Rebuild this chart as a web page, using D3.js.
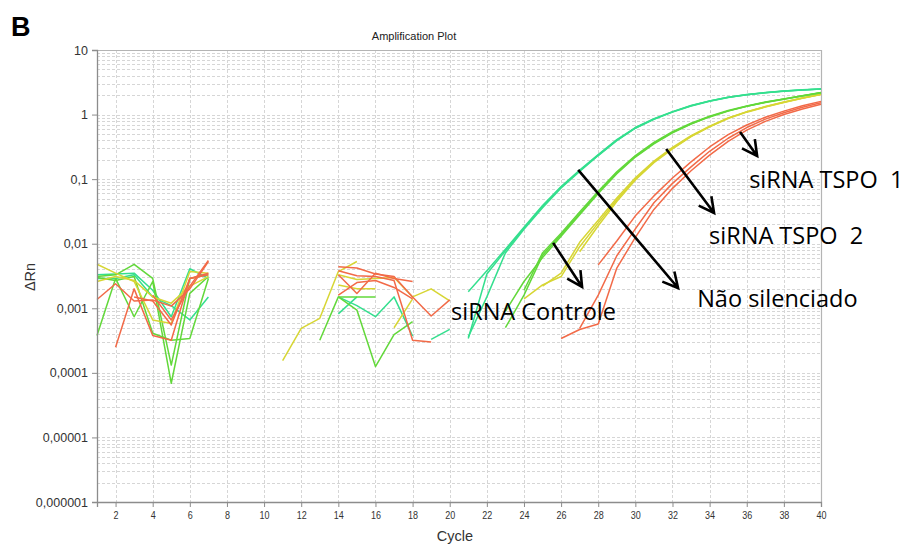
<!DOCTYPE html>
<html>
<head>
<meta charset="utf-8">
<script src="https://cdn.jsdelivr.net/npm/d3@7"></script>
<style>
  html, body { margin: 0; padding: 0; background: #fff; }
  svg { display: block; }
</style>
</head>
<body>
<svg id="chart" width="904" height="547"></svg>
<script>
// ---- qPCR amplification traces (ΔRn per cycle) ----
// Each trace: first cycle + consecutive ΔRn values.
const naoSilenciado1 = { from: 21, values: [0.00034, 0.0034, 0.0078, 0.0174, 0.0375, 0.075, 0.135, 0.235, 0.40, 0.62, 0.85, 1.10, 1.37, 1.62, 1.85, 2.03, 2.18, 2.31, 2.41, 2.49] };
const naoSilenciado2 = { from: 21, values: [0.0018, 0.0038, 0.0082, 0.018, 0.039, 0.077, 0.138, 0.24, 0.41, 0.63, 0.86, 1.11, 1.38, 1.63, 1.86, 2.04, 2.19, 2.32, 2.42, 2.50] };
const naoSilenciado3 = { from: 21, values: [0.00036, 0.0015, 0.0072, 0.0168, 0.036, 0.073, 0.132, 0.232, 0.395, 0.615, 0.845, 1.09, 1.36, 1.61, 1.84, 2.02, 2.17, 2.30, 2.40, 2.48] };

const controle1 = { from: 23, values: [0.0005, 0.0016, 0.0066, 0.0138, 0.029, 0.062, 0.125, 0.225, 0.36, 0.53, 0.72, 0.93, 1.14, 1.35, 1.55, 1.74, 1.95, 2.18] };
const controle2 = { from: 24, values: [0.0019, 0.0072, 0.0145, 0.031, 0.065, 0.13, 0.232, 0.37, 0.545, 0.735, 0.945, 1.155, 1.36, 1.56, 1.75, 1.96, 2.19] };
const controle3 = { from: 23, values: [0.0009, 0.0026, 0.0061, 0.013, 0.028, 0.06, 0.121, 0.22, 0.352, 0.52, 0.71, 0.92, 1.13, 1.34, 1.54, 1.73, 1.94, 2.17] };

const tspo2a = { from: 24, values: [0.0014, 0.0023, 0.0031, 0.009, 0.021, 0.048, 0.10, 0.185, 0.30, 0.46, 0.65, 0.88, 1.10, 1.32, 1.55, 1.80, 2.06] };
const tspo2b = { from: 25, values: [0.0022, 0.0035, 0.0105, 0.023, 0.051, 0.105, 0.19, 0.31, 0.47, 0.66, 0.89, 1.11, 1.33, 1.56, 1.81, 2.07] };
const tspo2c = { from: 27, values: [0.0075, 0.019, 0.045, 0.097, 0.18, 0.295, 0.455, 0.645, 0.87, 1.09, 1.31, 1.54, 1.79, 2.05] };

const tspo1a = { from: 26, values: [0.00034, 0.00047, 0.00057, 0.0042, 0.0125, 0.034, 0.072, 0.135, 0.235, 0.385, 0.575, 0.785, 1.00, 1.22, 1.45] };
const tspo1b = { from: 27, values: [0.00049, 0.0016, 0.0065, 0.017, 0.043, 0.086, 0.155, 0.27, 0.43, 0.63, 0.85, 1.07, 1.30, 1.52] };
const tspo1c = { from: 28, values: [0.0047, 0.011, 0.027, 0.055, 0.104, 0.185, 0.315, 0.49, 0.69, 0.91, 1.13, 1.37, 1.60] };

// Baseline noise, cycles 1-7
const baseYellowA = { from: 1, values: [0.0048, 0.0035, 0.0026, 0.00066, 0.00058, 0.0037, 0.0035] };
const baseYellowB = { from: 1, values: [0.0026, 0.0031, 0.0027, 0.0015, 0.0012, 0.0022, 0.0031] };
const baseTealA   = { from: 1, values: [0.0033, 0.0034, 0.0035, 0.0019, 0.00074, 0.0041, 0.0029] };
const baseTealB   = { from: 1, values: [0.0029, 0.0029, 0.0033, 0.0015, 0.0011, 0.00066, 0.0015] };
const baseGreenA  = { from: 1, values: [0.00038, 0.0029, 0.00074, 0.0026, 0.000069, 0.0017, 0.0031] };
const baseGreenB  = { from: 1, values: [0.0031, 0.0033, 0.0048, 0.0029, 0.000132, 0.0029, 0.0033] };
const baseGreenC  = { from: 1, values: [0.0030, 0.0027, 0.0031, 0.00041, 0.00032, 0.00034, 0.0029] };
const baseRedA    = { from: 1, values: [0.00137, 0.0024, 0.0013, 0.00134, 0.00108, 0.0020, 0.0053] };
const baseRedB    = { from: 2, values: [0.00025, 0.0020, 0.00038, 0.00032, 0.0029, 0.0035] };
const baseRedC    = { from: 3, values: [0.0015, 0.0013, 0.00055, 0.0029, 0.0033] };
const baseRedD    = { from: 4, values: [0.0016, 0.00066, 0.0022, 0.0055] };

// Baseline noise, cycles 11-20
const midYellowA = { from: 11, values: [0.000155, 0.00049, 0.0007, 0.0037, 0.0053] };
const midYellowB = { from: 14, values: [0.0033, 0.0028, 0.0029, 0.0030, 0.0015, 0.0020, 0.0013] };
const midYellowC = { from: 14, values: [0.0023, 0.0020, 0.0020] };
const midYellowD = { from: 17, values: [0.0005, 0.0014] };
const midRedA    = { from: 14, values: [0.0044, 0.0042, 0.0034, 0.0031, 0.0015, 0.00076, 0.00135] };
const midRedB    = { from: 14, values: [0.0033, 0.0017, 0.0035, 0.0029, 0.0026] };
const midRedC    = { from: 14, values: [0.0016, 0.0025, 0.0027, 0.0021, 0.0014] };
const midRedD    = { from: 14, values: [0.0038, 0.0032, 0.0031, 0.0027, 0.00032, 0.0003] };
const midGreenA  = { from: 13, values: [0.00032, 0.0015, 0.00094, 0.000125, 0.00039, 0.00062] };
const midGreenB  = { from: 14, values: [0.0015, 0.0015, 0.0015] };
const midTealA   = { from: 14, values: [0.0015, 0.0011, 0.00074, 0.0015, 0.00037] };
const midTealB   = { from: 14, values: [0.00082, 0.0015] };
const midTealC   = { from: 19, values: [0.00033, 0.00047] };

// Series colours per sample group
const groupColors = {
  nao: "#34df8e",
  controle: "#62d83a",
  tspo2: "#d7d634",
  tspo1: "#f26a48"
};

const traces = [
  ["nao", baseTealA], ["nao", baseTealB], ["nao", midTealA], ["nao", midTealB], ["nao", midTealC],
  ["controle", baseGreenA], ["controle", baseGreenB], ["controle", baseGreenC], ["controle", midGreenA], ["controle", midGreenB],
  ["tspo2", baseYellowA], ["tspo2", baseYellowB], ["tspo2", midYellowA], ["tspo2", midYellowB], ["tspo2", midYellowC], ["tspo2", midYellowD],
  ["tspo1", baseRedA], ["tspo1", baseRedB], ["tspo1", baseRedC], ["tspo1", baseRedD],
  ["tspo1", midRedA], ["tspo1", midRedB], ["tspo1", midRedC], ["tspo1", midRedD],
  ["tspo1", tspo1a], ["tspo1", tspo1b], ["tspo1", tspo1c],
  ["tspo2", tspo2a], ["tspo2", tspo2b], ["tspo2", tspo2c],
  ["controle", controle1], ["controle", controle2], ["controle", controle3],
  ["nao", naoSilenciado1], ["nao", naoSilenciado2], ["nao", naoSilenciado3]
];

// Axis ticks
const xTickValues = d3.range(2, 41, 2);
const yTickValues = [1e-6, 1e-5, 1e-4, 1e-3, 1e-2, 1e-1, 1, 10];
const yTickLabels = ["0,000001", "0,00001", "0,0001", "0,001", "0,01", "0,1", "1", "10"];

// Annotations: label text, arrow start [cycle, ΔRn], arrow tip [cycle, ΔRn], label anchor [cycle, ΔRn]
const annotationLabels = ["siRNA TSPO  1", "siRNA TSPO  2", "Não silenciado", "siRNA Controle"];
const arrowStarts = [[35.64, 0.537], [31.66, 0.293], [26.92, 0.139], [25.57, 0.0103]];
const arrowTips   = [[36.56, 0.228], [34.24, 0.0299], [32.30, 0.00206], [27.13, 0.00214]];
const labelAnchors = [[36.13, 0.072], [33.97, 0.0099], [33.33, 0.00103], [20.07, 0.00066]];

// ---- drawing ----
const svg = d3.select("#chart");
const margin = { left: 97, right: 821, top: 50, bottom: 502 };

const x = d3.scaleLinear().domain([1, 40]).range([margin.left, margin.right]);
const y = d3.scaleLog().domain([1e-6, 10]).range([margin.bottom, margin.top]);

// Grid
const grid = svg.append("g").attr("class", "grid")
  .attr("stroke", "#d6d6d6").attr("stroke-width", 1).attr("stroke-dasharray", "3,2")
  .attr("shape-rendering", "crispEdges");

const minorY = [];
for (let e = -6; e <= 0; e++) {
  for (let m = 1; m <= 9; m++) minorY.push(m * Math.pow(10, e));
}
grid.selectAll("line.h").data(minorY).join("line")
  .attr("class", "h")
  .attr("x1", margin.left).attr("x2", margin.right)
  .attr("y1", d => Math.round(y(d)) + 0.5).attr("y2", d => Math.round(y(d)) + 0.5);

grid.selectAll("line.v").data(xTickValues.filter(d => d < 40)).join("line")
  .attr("class", "v")
  .attr("y1", margin.top).attr("y2", margin.bottom)
  .attr("x1", d => Math.round(x(d)) + 0.5).attr("x2", d => Math.round(x(d)) + 0.5);

// Frame (top and right)
svg.append("path")
  .attr("d", `M${margin.left},${margin.top + 0.5}H${margin.right + 0.5}V${margin.bottom}`)
  .attr("fill", "none").attr("stroke", "#b4b4b4").attr("stroke-width", 1.2);

// Amplification curves
const line = d3.line()
  .x(d => x(d[0]))
  .y(d => y(d[1]));

svg.append("g").attr("class", "traces")
  .selectAll("path").data(traces).join("path")
  .attr("d", ([, t]) => line(t.values.map((v, i) => [t.from + i, v])))
  .attr("fill", "none")
  .attr("stroke", ([g]) => groupColors[g])
  .attr("stroke-width", 1.5)
  .attr("stroke-linejoin", "round");

// Axes
const yAxis = d3.axisLeft(y)
  .tickValues(yTickValues)
  .tickFormat((d, i) => yTickLabels[i])
  .tickSize(5).tickPadding(4);
const gy = svg.append("g").attr("transform", `translate(${margin.left},0)`).call(yAxis);
gy.select(".domain").attr("stroke", "#8c8c8c").attr("stroke-width", 1.3);
gy.selectAll(".tick line").attr("stroke", "#8c8c8c");
gy.selectAll(".tick text")
  .attr("font-family", "Liberation Sans, Arial, sans-serif")
  .attr("font-size", 12.5).attr("fill", "#333");

const xAxis = d3.axisBottom(x)
  .tickValues(xTickValues)
  .tickSize(5).tickPadding(5);
const gx = svg.append("g").attr("transform", `translate(0,${margin.bottom})`).call(xAxis);
gx.select(".domain").attr("stroke", "#8c8c8c").attr("stroke-width", 1.3);
gx.selectAll(".tick line").attr("stroke", "#8c8c8c");
// narrow tick numbers, still centred on their ticks
gx.selectAll(".tick text")
  .attr("font-family", "Liberation Sans, Arial, sans-serif")
  .attr("font-size", 10).attr("fill", "#333")
  .style("transform", "scaleX(0.9)");

// Titles
svg.append("text")
  .attr("x", 414).attr("y", 40)
  .attr("text-anchor", "middle")
  .attr("font-family", "Liberation Sans, Arial, sans-serif")
  .attr("font-size", 11).attr("fill", "#222")
  .text("Amplification Plot");

svg.append("text")
  .attr("x", 455).attr("y", 541)
  .attr("text-anchor", "middle")
  .attr("font-family", "Liberation Sans, Arial, sans-serif")
  .attr("font-size", 14.5).attr("fill", "#333")
  .text("Cycle");

svg.append("text")
  .attr("transform", "translate(35,277) rotate(-90)")
  .attr("text-anchor", "middle")
  .attr("font-family", "Liberation Sans, Arial, sans-serif")
  .attr("font-size", 14.5).attr("fill", "#333")
  .text("ΔRn");

svg.append("text")
  .attr("x", 11).attr("y", 36)
  .attr("font-family", "Liberation Sans, Arial, sans-serif")
  .attr("font-weight", "bold")
  .attr("font-size", 27).attr("fill", "#000")
  .text("B");

// Annotation arrows
const arrows = svg.append("g").attr("class", "arrows");
arrowStarts.forEach((s, i) => {
  const x1 = x(s[0]), y1 = y(s[1]);
  const x2 = x(arrowTips[i][0]), y2 = y(arrowTips[i][1]);
  const ang = Math.atan2(y2 - y1, x2 - x1);
  const L = 17, spread = Math.PI / 6.5;
  const hx1 = x2 - L * Math.cos(ang - spread), hy1 = y2 - L * Math.sin(ang - spread);
  const hx2 = x2 - L * Math.cos(ang + spread), hy2 = y2 - L * Math.sin(ang + spread);
  arrows.append("path")
    .attr("d", `M${x1},${y1}L${x2},${y2}M${hx1},${hy1}L${x2},${y2}L${hx2},${hy2}`)
    .attr("fill", "none").attr("stroke", "#000").attr("stroke-width", 2.6)
    .attr("stroke-linecap", "butt").attr("stroke-linejoin", "miter");
});

// Annotation labels
svg.append("g").attr("class", "labels")
  .selectAll("text").data(annotationLabels).join("text")
  .attr("x", (d, i) => x(labelAnchors[i][0]))
  .attr("y", (d, i) => y(labelAnchors[i][1]))
  .attr("font-family", "'Open Sans', Lato, sans-serif")
  .attr("font-size", 23.5).attr("fill", "#000")
  .style("white-space", "pre")
  .text(d => d);
</script>
</body>
</html>
